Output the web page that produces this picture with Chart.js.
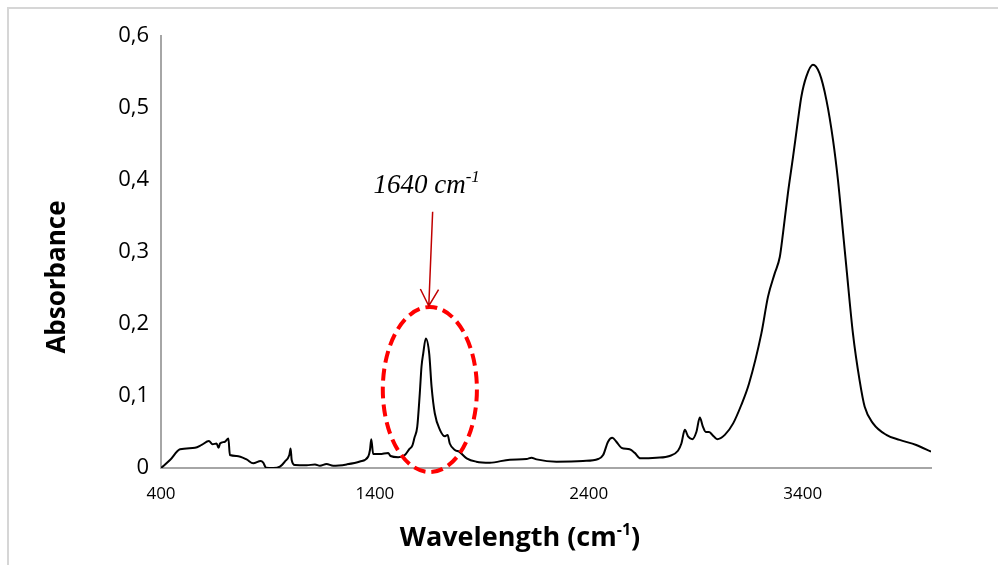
<!DOCTYPE html>
<html>
<head>
<meta charset="utf-8">
<title>FTIR spectrum</title>
<script src="https://cdn.jsdelivr.net/npm/chart.js@4.4.1/dist/chart.umd.min.js"></script>
<style>
  body { margin: 0; background: #fff; }
  #wrap { position: relative; width: 998px; height: 565px; overflow: hidden; }
  #frame { position: absolute; left: 7px; top: 7px; width: 1100px; height: 700px; border: 2px solid #d6d6d6; }
  canvas { position: absolute; left: 0; top: 0; }
</style>
</head>
<body>
<div id="wrap">
  <div id="frame"></div>
  <canvas id="chart-ftir" width="998" height="565"></canvas>
</div>
<script>
// spectrum (cm-1 / absorbance)
var wavenumbers = [
  400, 442, 489, 559, 590, 624, 641, 660, 669, 676, 699, 715, 722, 754, 800, 831, 866, 878, 891, 925,
  956, 979, 1000, 1006, 1011, 1026, 1081, 1120, 1143, 1174, 1205, 1268, 1330, 1369, 1377, 1383, 1392, 1423, 1462, 1473,
  1509, 1540, 1560, 1575, 1585, 1598, 1610, 1618, 1626, 1638, 1654, 1665, 1680, 1704, 1728, 1740, 1750, 1774, 1794, 1829,
  1874, 1937, 2031, 2109, 2132, 2156, 2249, 2373, 2444, 2467, 2490, 2510, 2529, 2553, 2591, 2615, 2641, 2716, 2778, 2817,
  2833, 2849, 2864, 2884, 2903, 2919, 2934, 2947, 2962, 2978, 3000, 3036, 3075, 3113, 3149, 3207, 3238, 3269, 3293, 3308,
  3331, 3355, 3378, 3394, 3417, 3448, 3479, 3511, 3542, 3565, 3592, 3604, 3635, 3666, 3690, 3729, 3791, 3853, 3931, 4000
];
var absorbance = [
  0, 0.011, 0.026, 0.028, 0.032, 0.0375, 0.033, 0.034, 0.028, 0.034, 0.0365, 0.041, 0.018, 0.0167, 0.012, 0.0065, 0.0097, 0.0074, 0.0005, 0,
  0.002, 0.009, 0.018, 0.027, 0.011, 0.004, 0.0037, 0.005, 0.003, 0.0055, 0.003, 0.005, 0.009, 0.016, 0.025, 0.040, 0.0195, 0.0195, 0.021, 0.0167,
  0.015, 0.018, 0.026, 0.031, 0.042, 0.057, 0.104, 0.141, 0.159, 0.180, 0.159, 0.113, 0.076, 0.053, 0.044, 0.046, 0.034, 0.025, 0.0227, 0.0134,
  0.0088, 0.0074, 0.0116, 0.0125, 0.0143, 0.012, 0.0088, 0.0097, 0.0125, 0.018, 0.0365, 0.042, 0.0365, 0.028, 0.026, 0.021, 0.0134, 0.0143, 0.0167, 0.024,
  0.034, 0.053, 0.044, 0.040, 0.050, 0.070, 0.057, 0.050, 0.050, 0.046, 0.040, 0.046, 0.062, 0.0875, 0.117, 0.187, 0.238, 0.270, 0.293, 0.326,
  0.3815, 0.432, 0.483, 0.516, 0.5435, 0.560, 0.548, 0.511, 0.4555, 0.40, 0.317, 0.280, 0.187, 0.122, 0.085, 0.062, 0.046, 0.039, 0.032, 0.0227
];
var xTicks = [400, 1400, 2400, 3400];
var yTicks = [0, 0.1, 0.2, 0.3, 0.4, 0.5, 0.6];

// peak marker (data units)
var peakLabel = '1640 cm';
var markEllipse = { x: 1657, y: 0.109, rx: 220, ry: 0.1146 };
var markArrow = { x1: 1670, y1: 0.356, x2: 1652, y2: 0.225 };

var points = [];
for (var i = 0; i < wavenumbers.length; i++) {
  points.push({ x: wavenumbers[i], y: absorbance[i] });
}

// text with a superscript part (and optional tail), centered on cx
function drawSup(ctx, main, sup, tail, cx, baseline, font, supFont, rise) {
  ctx.font = font;
  var w1 = ctx.measureText(main).width;
  var w3 = ctx.measureText(tail).width;
  ctx.font = supFont;
  var w2 = ctx.measureText(sup).width;
  var left = cx - (w1 + w2 + w3) / 2;
  ctx.textAlign = 'left';
  ctx.textBaseline = 'alphabetic';
  ctx.font = font;
  ctx.fillText(main, left, baseline);
  if (tail) ctx.fillText(tail, left + w1 + w2, baseline);
  ctx.font = supFont;
  ctx.fillText(sup, left + w1, baseline - rise);
}

var markPlugin = {
  id: 'markPlugin',
  afterDatasetsDraw: function(chart) {
    var ctx = chart.ctx;
    var xs = chart.scales.x;
    var ys = chart.scales.y;

    // dashed ellipse round the 1640 band
    var cx = xs.getPixelForValue(markEllipse.x);
    var cy = ys.getPixelForValue(markEllipse.y);
    var rx = xs.getPixelForValue(markEllipse.x + markEllipse.rx) - cx;
    var ry = cy - ys.getPixelForValue(markEllipse.y + markEllipse.ry);
    ctx.save();
    ctx.strokeStyle = '#ff0000';
    ctx.lineWidth = 4;
    ctx.setLineDash([12, 6]);
    ctx.beginPath();
    ctx.ellipse(cx, cy, rx, ry, 0, 0, Math.PI * 2);
    ctx.stroke();
    ctx.restore();

    // arrow
    var ax1 = xs.getPixelForValue(markArrow.x1), ay1 = ys.getPixelForValue(markArrow.y1);
    var ax2 = xs.getPixelForValue(markArrow.x2), ay2 = ys.getPixelForValue(markArrow.y2);
    var ang = Math.atan2(ay2 - ay1, ax2 - ax1);
    ctx.save();
    ctx.strokeStyle = '#c00000';
    ctx.lineWidth = 1.5;
    ctx.beginPath();
    ctx.moveTo(ax1, ay1);
    ctx.lineTo(ax2, ay2);
    ctx.moveTo(ax2 - 19 * Math.cos(ang - 0.5), ay2 - 19 * Math.sin(ang - 0.5));
    ctx.lineTo(ax2, ay2);
    ctx.lineTo(ax2 - 19 * Math.cos(ang + 0.5), ay2 - 19 * Math.sin(ang + 0.5));
    ctx.stroke();
    ctx.restore();

    // label over the arrow
    ctx.save();
    ctx.fillStyle = '#000';
    drawSup(ctx, peakLabel, '-1', '', ax1 - 6, ay1 - 19,
      'italic 27px "Liberation Serif", serif', 'italic 17px "Liberation Serif", serif', 11);
    ctx.restore();

    // axis titles
    ctx.save();
    ctx.fillStyle = '#000';
    drawSup(ctx, 'Wavelength (cm', '-1', ')', 520, 546,
      'bold 27px "Open Sans", sans-serif', 'bold 16px "Open Sans", sans-serif', 11);
    ctx.restore();

    ctx.save();
    ctx.fillStyle = '#000';
    ctx.font = 'bold 26px "Open Sans", sans-serif';
    ctx.translate(58, 277);
    ctx.rotate(-Math.PI / 2);
    ctx.textAlign = 'center';
    ctx.textBaseline = 'middle';
    ctx.fillText('Absorbance', 0, 0);
    ctx.restore();
  }
};

Chart.defaults.font.family = "'Open Sans', sans-serif";
Chart.defaults.color = '#000';

new Chart(document.getElementById('chart-ftir'), {
  type: 'line',
  data: {
    datasets: [{
      label: 'Absorbance',
      data: points,
      borderColor: '#000',
      borderWidth: 2,
      pointRadius: 0,
      fill: false,
      cubicInterpolationMode: 'monotone'
    }]
  },
  options: {
    responsive: false,
    animation: false,
    layout: { padding: { top: 36, right: 67, left: 0, bottom: 0 } },
    plugins: {
      legend: { display: false },
      tooltip: { enabled: false }
    },
    scales: {
      x: {
        type: 'linear',
        min: 400,
        max: 4000,
        grid: { display: false, drawTicks: false },
        border: { display: true, color: '#a6a6a6', width: 2 },
        afterBuildTicks: function(axis) {
          axis.ticks = xTicks.map(function(v) { return { value: v }; });
        },
        afterFit: function(axis) { axis.height = 97; },
        ticks: {
          font: { size: 17 },
          padding: 16,
          maxRotation: 0,
          autoSkip: false,
          callback: function(v) { return String(v); }
        }
      },
      y: {
        min: 0,
        max: 0.6,
        grid: { display: false, drawTicks: false },
        border: { display: true, color: '#a6a6a6', width: 2 },
        afterBuildTicks: function(axis) {
          axis.ticks = yTicks.map(function(v) { return { value: v }; });
        },
        afterFit: function(axis) { axis.width = 161; },
        ticks: {
          font: { size: 22 },
          padding: 12,
          callback: function(v) {
            return v === 0 ? '0' : v.toFixed(1).replace('.', ',');
          }
        }
      }
    }
  },
  plugins: [markPlugin]
});
</script>
</body>
</html>
